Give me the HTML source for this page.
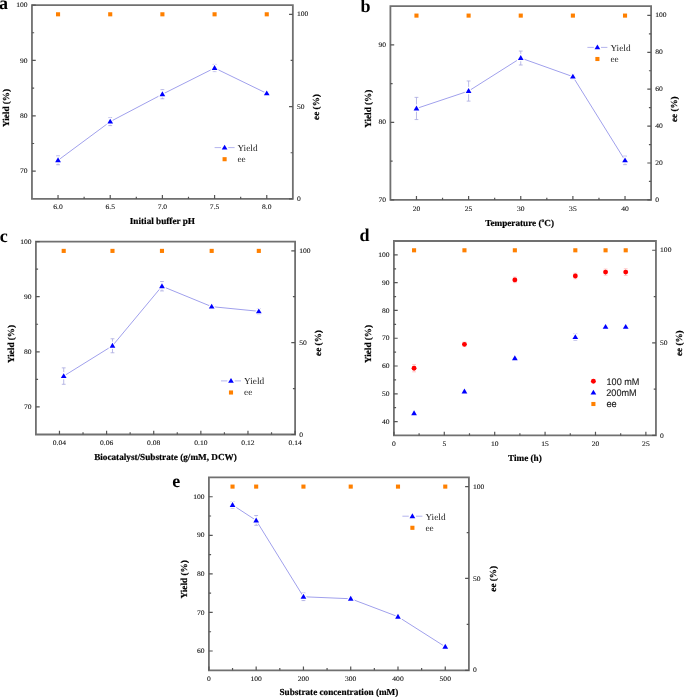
<!DOCTYPE html>
<html><head><meta charset="utf-8"><style>
html,body{margin:0;padding:0;background:#fff;}
body{width:685px;height:698px;overflow:hidden;}
svg{display:block;filter:blur(0.3px);font-family:"Liberation Serif",serif;will-change:transform;text-rendering:geometricPrecision;}
</style></head><body>
<svg width="685" height="698" viewBox="0 0 685 698">
<path d="M31.95 5.05H292.85V198.90H31.95Z" fill="none" stroke="#707070" stroke-width="1.8" stroke-linejoin="miter"/>
<path d="M58.04 198.90v-3.8M110.22 198.90v-3.8M162.40 198.90v-3.8M214.58 198.90v-3.8M266.76 198.90v-3.8M84.13 198.90v-2.2M136.31 198.90v-2.2M188.49 198.90v-2.2M240.67 198.90v-2.2M31.95 171.21h3.8M31.95 115.82h3.8M31.95 60.44h3.8M31.95 5.05h3.8M31.95 143.51h2.2M31.95 88.13h2.2M31.95 32.74h2.2M292.85 198.90h-3.8M292.85 106.59h-3.8M292.85 14.28h-3.8M292.85 152.75h-2.2M292.85 60.44h-2.2" stroke="#555" stroke-width="1.2" fill="none"/>
<g font-size="6.9" fill="#111" stroke="#111" stroke-width="0.1"><text transform="translate(58.04 209.07) scale(1.1 1)" text-anchor="middle">6.0</text><text transform="translate(110.22 209.07) scale(1.1 1)" text-anchor="middle">6.5</text><text transform="translate(162.40 209.07) scale(1.1 1)" text-anchor="middle">7.0</text><text transform="translate(214.58 209.07) scale(1.1 1)" text-anchor="middle">7.5</text><text transform="translate(266.76 209.07) scale(1.1 1)" text-anchor="middle">8.0</text><text transform="translate(27.65 173.28) scale(1.1 1)" text-anchor="end">70</text><text transform="translate(27.65 117.89) scale(1.1 1)" text-anchor="end">80</text><text transform="translate(27.65 62.51) scale(1.1 1)" text-anchor="end">90</text><text transform="translate(27.65 7.12) scale(1.1 1)" text-anchor="end">100</text><text transform="translate(296.95 200.97) scale(1.1 1)">0</text><text transform="translate(296.95 108.66) scale(1.1 1)">50</text><text transform="translate(296.95 16.35) scale(1.1 1)">100</text></g>
<polyline points="58.04,160.30 110.22,121.64 162.40,94.22 214.58,68.02 266.76,93.39" fill="none" stroke="#a0a0ec" stroke-width="1"/>
<path d="M58.04 155.87V164.73M56.14 155.87h3.8M56.14 164.73h3.8" stroke="#a8a8e0" stroke-width="0.8" fill="none"/>
<path d="M110.22 117.65V125.62M108.32 117.65h3.8M108.32 125.62h3.8" stroke="#a8a8e0" stroke-width="0.8" fill="none"/>
<path d="M162.40 89.68V98.76M160.50 89.68h3.8M160.50 98.76h3.8" stroke="#a8a8e0" stroke-width="0.8" fill="none"/>
<path d="M214.58 64.42V71.62M212.68 64.42h3.8M212.68 71.62h3.8" stroke="#a8a8e0" stroke-width="0.8" fill="none"/>
<path d="M266.76 91.73V95.05M264.86 91.73h3.8M264.86 95.05h3.8" stroke="#a8a8e0" stroke-width="0.8" fill="none"/>
<path d="M58.04 157.36L60.89 162.26H55.19Z" fill="#0000ff" stroke="#fff" stroke-width="2.4" paint-order="stroke" stroke-linejoin="round"/>
<path d="M110.22 118.70L113.07 123.60H107.37Z" fill="#0000ff" stroke="#fff" stroke-width="2.4" paint-order="stroke" stroke-linejoin="round"/>
<path d="M162.40 91.28L165.25 96.18H159.55Z" fill="#0000ff" stroke="#fff" stroke-width="2.4" paint-order="stroke" stroke-linejoin="round"/>
<path d="M214.58 65.08L217.43 69.98H211.73Z" fill="#0000ff" stroke="#fff" stroke-width="2.4" paint-order="stroke" stroke-linejoin="round"/>
<path d="M266.76 90.45L269.61 95.35H263.91Z" fill="#0000ff" stroke="#fff" stroke-width="2.4" paint-order="stroke" stroke-linejoin="round"/>
<rect x="55.99" y="12.25" width="4.1" height="4.1" fill="#ff8000"/>
<rect x="108.17" y="12.25" width="4.1" height="4.1" fill="#ff8000"/>
<rect x="160.35" y="12.25" width="4.1" height="4.1" fill="#ff8000"/>
<rect x="212.53" y="12.25" width="4.1" height="4.1" fill="#ff8000"/>
<rect x="264.71" y="12.25" width="4.1" height="4.1" fill="#ff8000"/>
<path d="M214.60 147.60h6.4M228.20 147.60h6.4" stroke="#b4b4ee" stroke-width="1"/>
<path d="M224.60 144.66L227.45 149.56H221.75Z" fill="#0000ff" stroke="#fff" stroke-width="2.4" paint-order="stroke" stroke-linejoin="round"/>
<text x="237.40" y="151.17" font-size="9.3" fill="#222">Yield</text>
<rect x="222.55" y="157.15" width="4.1" height="4.1" fill="#ff8000"/>
<text x="237.40" y="161.90" font-size="9.3" fill="#222">ee</text>
<text x="162.40" y="223.60" text-anchor="middle" font-weight="bold" font-size="9.2" stroke="#000" stroke-width="0.2">Initial buffer pH</text>
<text transform="translate(6.30 108.00) rotate(-90)" x="0" y="2.76" text-anchor="middle" font-weight="bold" font-size="9.2" stroke="#000" stroke-width="0.2">Yield (%)</text>
<text transform="translate(316.00 107.00) rotate(-90)" x="0" y="2.76" text-anchor="middle" font-weight="bold" font-size="9.2" stroke="#000" stroke-width="0.2">ee (%)</text>
<text x="-1.00" y="8.60" font-weight="bold" font-size="18">a</text>
<path d="M390.40 6.20H651.10V199.90H390.40Z" fill="none" stroke="#707070" stroke-width="1.8" stroke-linejoin="miter"/>
<path d="M416.47 199.90v-3.8M468.61 199.90v-3.8M520.75 199.90v-3.8M572.89 199.90v-3.8M625.03 199.90v-3.8M442.54 199.90v-2.2M494.68 199.90v-2.2M546.82 199.90v-2.2M598.96 199.90v-2.2M390.40 199.90h3.8M390.40 122.42h3.8M390.40 44.94h3.8M390.40 161.16h2.2M390.40 83.68h2.2M651.10 199.90h-3.8M651.10 163.00h-3.8M651.10 126.11h-3.8M651.10 89.21h-3.8M651.10 52.32h-3.8M651.10 15.42h-3.8M651.10 181.45h-2.2M651.10 144.56h-2.2M651.10 107.66h-2.2M651.10 70.77h-2.2M651.10 33.87h-2.2" stroke="#555" stroke-width="1.2" fill="none"/>
<g font-size="6.9" fill="#111" stroke="#111" stroke-width="0.1"><text transform="translate(416.47 210.87) scale(1.1 1)" text-anchor="middle">20</text><text transform="translate(468.61 210.87) scale(1.1 1)" text-anchor="middle">25</text><text transform="translate(520.75 210.87) scale(1.1 1)" text-anchor="middle">30</text><text transform="translate(572.89 210.87) scale(1.1 1)" text-anchor="middle">35</text><text transform="translate(625.03 210.87) scale(1.1 1)" text-anchor="middle">40</text><text transform="translate(386.10 201.97) scale(1.1 1)" text-anchor="end">70</text><text transform="translate(386.10 124.49) scale(1.1 1)" text-anchor="end">80</text><text transform="translate(386.10 47.01) scale(1.1 1)" text-anchor="end">90</text><text transform="translate(655.20 201.97) scale(1.1 1)">0</text><text transform="translate(655.20 165.07) scale(1.1 1)">20</text><text transform="translate(655.20 128.18) scale(1.1 1)">40</text><text transform="translate(655.20 91.28) scale(1.1 1)">60</text><text transform="translate(655.20 54.39) scale(1.1 1)">80</text><text transform="translate(655.20 17.49) scale(1.1 1)">100</text></g>
<polyline points="416.47,108.47 468.61,91.04 520.75,58.03 572.89,76.63 625.03,160.39" fill="none" stroke="#a0a0ec" stroke-width="1"/>
<path d="M416.47 97.39V119.55M414.57 97.39h3.8M414.57 119.55h3.8" stroke="#a8a8e0" stroke-width="0.8" fill="none"/>
<path d="M468.61 80.97V101.11M466.71 80.97h3.8M466.71 101.11h3.8" stroke="#a8a8e0" stroke-width="0.8" fill="none"/>
<path d="M520.75 51.06V65.01M518.85 51.06h3.8M518.85 65.01h3.8" stroke="#a8a8e0" stroke-width="0.8" fill="none"/>
<path d="M572.89 74.30V78.95M570.99 74.30h3.8M570.99 78.95h3.8" stroke="#a8a8e0" stroke-width="0.8" fill="none"/>
<path d="M625.03 156.12V164.65M623.13 156.12h3.8M623.13 164.65h3.8" stroke="#a8a8e0" stroke-width="0.8" fill="none"/>
<path d="M416.47 105.53L419.32 110.43H413.62Z" fill="#0000ff" stroke="#fff" stroke-width="2.4" paint-order="stroke" stroke-linejoin="round"/>
<path d="M468.61 88.10L471.46 93.00H465.76Z" fill="#0000ff" stroke="#fff" stroke-width="2.4" paint-order="stroke" stroke-linejoin="round"/>
<path d="M520.75 55.09L523.60 59.99H517.90Z" fill="#0000ff" stroke="#fff" stroke-width="2.4" paint-order="stroke" stroke-linejoin="round"/>
<path d="M572.89 73.69L575.74 78.59H570.04Z" fill="#0000ff" stroke="#fff" stroke-width="2.4" paint-order="stroke" stroke-linejoin="round"/>
<path d="M625.03 157.45L627.88 162.35H622.18Z" fill="#0000ff" stroke="#fff" stroke-width="2.4" paint-order="stroke" stroke-linejoin="round"/>
<rect x="414.42" y="13.55" width="4.1" height="4.1" fill="#ff8000"/>
<rect x="466.56" y="13.55" width="4.1" height="4.1" fill="#ff8000"/>
<rect x="518.70" y="13.55" width="4.1" height="4.1" fill="#ff8000"/>
<rect x="570.84" y="13.55" width="4.1" height="4.1" fill="#ff8000"/>
<rect x="622.98" y="13.55" width="4.1" height="4.1" fill="#ff8000"/>
<path d="M587.40 47.40h6.4M601.00 47.40h6.4" stroke="#b4b4ee" stroke-width="1"/>
<path d="M597.40 44.46L600.25 49.36H594.55Z" fill="#0000ff" stroke="#fff" stroke-width="2.4" paint-order="stroke" stroke-linejoin="round"/>
<text x="610.40" y="50.97" font-size="9.3" fill="#222">Yield</text>
<rect x="595.35" y="56.95" width="4.1" height="4.1" fill="#ff8000"/>
<text x="610.40" y="61.70" font-size="9.3" fill="#222">ee</text>
<text x="519.55" y="226.40" text-anchor="middle" font-weight="bold" font-size="9.2" stroke="#000" stroke-width="0.2">Temperature (<tspan dy="-4.2" font-size="5.5">o</tspan><tspan dy="4.2">C)</tspan></text>
<text transform="translate(368.50 108.75) rotate(-90)" x="0" y="2.76" text-anchor="middle" font-weight="bold" font-size="9.2" stroke="#000" stroke-width="0.2">Yield (%)</text>
<text transform="translate(674.50 109.20) rotate(-90)" x="0" y="2.76" text-anchor="middle" font-weight="bold" font-size="9.2" stroke="#000" stroke-width="0.2">ee (%)</text>
<text x="360.50" y="12.00" font-weight="bold" font-size="18">b</text>
<path d="M35.90 241.60H295.10V434.50H35.90Z" fill="none" stroke="#707070" stroke-width="1.8" stroke-linejoin="miter"/>
<path d="M59.46 434.50v-3.8M106.59 434.50v-3.8M153.72 434.50v-3.8M200.85 434.50v-3.8M247.97 434.50v-3.8M295.10 434.50v-3.8M83.03 434.50v-2.2M130.15 434.50v-2.2M177.28 434.50v-2.2M224.41 434.50v-2.2M271.54 434.50v-2.2M35.90 406.94h3.8M35.90 351.83h3.8M35.90 296.71h3.8M35.90 241.60h3.8M35.90 379.39h2.2M35.90 324.27h2.2M35.90 269.16h2.2M295.10 434.50h-3.8M295.10 342.64h-3.8M295.10 250.79h-3.8M295.10 388.57h-2.2M295.10 296.71h-2.2" stroke="#555" stroke-width="1.2" fill="none"/>
<g font-size="6.9" fill="#111" stroke="#111" stroke-width="0.1"><text transform="translate(59.46 445.07) scale(1.1 1)" text-anchor="middle">0.04</text><text transform="translate(106.59 445.07) scale(1.1 1)" text-anchor="middle">0.06</text><text transform="translate(153.72 445.07) scale(1.1 1)" text-anchor="middle">0.08</text><text transform="translate(200.85 445.07) scale(1.1 1)" text-anchor="middle">0.10</text><text transform="translate(247.97 445.07) scale(1.1 1)" text-anchor="middle">0.12</text><text transform="translate(295.10 445.07) scale(1.1 1)" text-anchor="middle">0.14</text><text transform="translate(31.60 409.01) scale(1.1 1)" text-anchor="end">70</text><text transform="translate(31.60 353.90) scale(1.1 1)" text-anchor="end">80</text><text transform="translate(31.60 298.78) scale(1.1 1)" text-anchor="end">90</text><text transform="translate(31.60 243.67) scale(1.1 1)" text-anchor="end">100</text><text transform="translate(299.20 436.57) scale(1.1 1)">0</text><text transform="translate(299.20 344.71) scale(1.1 1)">50</text><text transform="translate(299.20 252.86) scale(1.1 1)">100</text></g>
<polyline points="63.71,376.08 112.48,345.77 161.97,286.24 211.68,306.63 258.81,311.32" fill="none" stroke="#a0a0ec" stroke-width="1"/>
<path d="M63.71 367.87V384.29M61.81 367.87h3.8M61.81 384.29h3.8" stroke="#a8a8e0" stroke-width="0.8" fill="none"/>
<path d="M112.48 338.77V352.77M110.58 338.77h3.8M110.58 352.77h3.8" stroke="#a8a8e0" stroke-width="0.8" fill="none"/>
<path d="M161.97 281.56V290.93M160.07 281.56h3.8M160.07 290.93h3.8" stroke="#a8a8e0" stroke-width="0.8" fill="none"/>
<path d="M211.68 304.98V308.29M209.78 304.98h3.8M209.78 308.29h3.8" stroke="#a8a8e0" stroke-width="0.8" fill="none"/>
<path d="M258.81 308.56V314.08M256.91 308.56h3.8M256.91 314.08h3.8" stroke="#a8a8e0" stroke-width="0.8" fill="none"/>
<path d="M63.71 373.14L66.56 378.04H60.86Z" fill="#0000ff" stroke="#fff" stroke-width="2.4" paint-order="stroke" stroke-linejoin="round"/>
<path d="M112.48 342.83L115.33 347.73H109.63Z" fill="#0000ff" stroke="#fff" stroke-width="2.4" paint-order="stroke" stroke-linejoin="round"/>
<path d="M161.97 283.30L164.82 288.20H159.12Z" fill="#0000ff" stroke="#fff" stroke-width="2.4" paint-order="stroke" stroke-linejoin="round"/>
<path d="M211.68 303.69L214.53 308.59H208.83Z" fill="#0000ff" stroke="#fff" stroke-width="2.4" paint-order="stroke" stroke-linejoin="round"/>
<path d="M258.81 308.38L261.66 313.28H255.96Z" fill="#0000ff" stroke="#fff" stroke-width="2.4" paint-order="stroke" stroke-linejoin="round"/>
<rect x="61.66" y="248.85" width="4.1" height="4.1" fill="#ff8000"/>
<rect x="110.43" y="248.85" width="4.1" height="4.1" fill="#ff8000"/>
<rect x="159.92" y="248.85" width="4.1" height="4.1" fill="#ff8000"/>
<rect x="209.63" y="248.85" width="4.1" height="4.1" fill="#ff8000"/>
<rect x="256.76" y="248.85" width="4.1" height="4.1" fill="#ff8000"/>
<path d="M221.00 380.90h6.4M234.60 380.90h6.4" stroke="#b4b4ee" stroke-width="1"/>
<path d="M231.00 377.96L233.85 382.86H228.15Z" fill="#0000ff" stroke="#fff" stroke-width="2.4" paint-order="stroke" stroke-linejoin="round"/>
<text x="244.00" y="384.47" font-size="9.3" fill="#222">Yield</text>
<rect x="228.95" y="390.45" width="4.1" height="4.1" fill="#ff8000"/>
<text x="244.00" y="395.20" font-size="9.3" fill="#222">ee</text>
<text x="165.50" y="459.60" text-anchor="middle" font-weight="bold" font-size="9.2" stroke="#000" stroke-width="0.2">Biocatalyst/Substrate (g/mM, DCW)</text>
<text transform="translate(11.40 344.00) rotate(-90)" x="0" y="2.76" text-anchor="middle" font-weight="bold" font-size="9.2" stroke="#000" stroke-width="0.2">Yield (%)</text>
<text transform="translate(318.60 343.00) rotate(-90)" x="0" y="2.76" text-anchor="middle" font-weight="bold" font-size="9.2" stroke="#000" stroke-width="0.2">ee (%)</text>
<text x="-0.20" y="242.30" font-weight="bold" font-size="18">c</text>
<path d="M393.90 241.00H655.95V435.45H393.90Z" fill="none" stroke="#707070" stroke-width="1.8" stroke-linejoin="miter"/>
<path d="M393.90 435.45v-3.8M444.29 435.45v-3.8M494.69 435.45v-3.8M545.08 435.45v-3.8M595.48 435.45v-3.8M645.87 435.45v-3.8M419.10 435.45v-2.2M469.49 435.45v-2.2M519.89 435.45v-2.2M570.28 435.45v-2.2M620.67 435.45v-2.2M393.90 421.56h3.8M393.90 393.78h3.8M393.90 366.00h3.8M393.90 338.23h3.8M393.90 310.45h3.8M393.90 282.67h3.8M393.90 254.89h3.8M393.90 407.67h2.2M393.90 379.89h2.2M393.90 352.11h2.2M393.90 324.34h2.2M393.90 296.56h2.2M393.90 268.78h2.2M655.95 435.45h-3.8M655.95 342.85h-3.8M655.95 250.26h-3.8M655.95 389.15h-2.2M655.95 296.56h-2.2" stroke="#555" stroke-width="1.2" fill="none"/>
<g font-size="6.9" fill="#111" stroke="#111" stroke-width="0.1"><text transform="translate(393.90 445.92) scale(1.1 1)" text-anchor="middle">0</text><text transform="translate(444.29 445.92) scale(1.1 1)" text-anchor="middle">5</text><text transform="translate(494.69 445.92) scale(1.1 1)" text-anchor="middle">10</text><text transform="translate(545.08 445.92) scale(1.1 1)" text-anchor="middle">15</text><text transform="translate(595.48 445.92) scale(1.1 1)" text-anchor="middle">20</text><text transform="translate(645.87 445.92) scale(1.1 1)" text-anchor="middle">25</text><text transform="translate(389.60 423.63) scale(1.1 1)" text-anchor="end">40</text><text transform="translate(389.60 395.85) scale(1.1 1)" text-anchor="end">50</text><text transform="translate(389.60 368.07) scale(1.1 1)" text-anchor="end">60</text><text transform="translate(389.60 340.30) scale(1.1 1)" text-anchor="end">70</text><text transform="translate(389.60 312.52) scale(1.1 1)" text-anchor="end">80</text><text transform="translate(389.60 284.74) scale(1.1 1)" text-anchor="end">90</text><text transform="translate(389.60 256.96) scale(1.1 1)" text-anchor="end">100</text><text transform="translate(660.05 437.52) scale(1.1 1)">0</text><text transform="translate(660.05 344.92) scale(1.1 1)">50</text><text transform="translate(660.05 252.33) scale(1.1 1)">100</text></g>
<path d="M414.06 364.61V371.84M412.16 364.61h3.8M412.16 371.84h3.8" stroke="#ffbcbc" stroke-width="0.8" fill="none"/>
<circle cx="414.06" cy="368.23" r="2.45" fill="#ff0000"/>
<path d="M464.45 342.11V346.56M462.55 342.11h3.8M462.55 346.56h3.8" stroke="#ffbcbc" stroke-width="0.8" fill="none"/>
<circle cx="464.45" cy="344.34" r="2.45" fill="#ff0000"/>
<path d="M514.85 277.11V282.67M512.95 277.11h3.8M512.95 282.67h3.8" stroke="#ffbcbc" stroke-width="0.8" fill="none"/>
<circle cx="514.85" cy="279.89" r="2.45" fill="#ff0000"/>
<path d="M575.32 273.22V278.78M573.42 273.22h3.8M573.42 278.78h3.8" stroke="#ffbcbc" stroke-width="0.8" fill="none"/>
<circle cx="575.32" cy="276.00" r="2.45" fill="#ff0000"/>
<path d="M605.56 269.06V275.17M603.66 269.06h3.8M603.66 275.17h3.8" stroke="#ffbcbc" stroke-width="0.8" fill="none"/>
<circle cx="605.56" cy="272.11" r="2.45" fill="#ff0000"/>
<path d="M625.71 268.78V275.45M623.81 268.78h3.8M623.81 275.45h3.8" stroke="#ffbcbc" stroke-width="0.8" fill="none"/>
<circle cx="625.71" cy="272.11" r="2.45" fill="#ff0000"/>
<path d="M414.06 411.56V414.89M412.16 411.56h3.8M412.16 414.89h3.8" stroke="#a8a8e0" stroke-width="0.8" fill="none"/>
<path d="M414.06 410.29L416.91 415.19H411.21Z" fill="#0000ff" stroke="#fff" stroke-width="2.4" paint-order="stroke" stroke-linejoin="round"/>
<path d="M464.45 390.17V392.95M462.55 390.17h3.8M462.55 392.95h3.8" stroke="#a8a8e0" stroke-width="0.8" fill="none"/>
<path d="M464.45 388.62L467.30 393.52H461.60Z" fill="#0000ff" stroke="#fff" stroke-width="2.4" paint-order="stroke" stroke-linejoin="round"/>
<path d="M514.85 357.39V359.06M512.95 357.39h3.8M512.95 359.06h3.8" stroke="#a8a8e0" stroke-width="0.8" fill="none"/>
<path d="M514.85 355.29L517.70 360.19H512.00Z" fill="#0000ff" stroke="#fff" stroke-width="2.4" paint-order="stroke" stroke-linejoin="round"/>
<path d="M575.32 333.78V340.45M573.42 333.78h3.8M573.42 340.45h3.8" stroke="#a8a8e0" stroke-width="0.8" fill="none"/>
<path d="M575.32 334.17L578.17 339.07H572.47Z" fill="#0000ff" stroke="#fff" stroke-width="2.4" paint-order="stroke" stroke-linejoin="round"/>
<path d="M605.56 326.00V327.67M603.66 326.00h3.8M603.66 327.67h3.8" stroke="#a8a8e0" stroke-width="0.8" fill="none"/>
<path d="M605.56 323.90L608.41 328.80H602.71Z" fill="#0000ff" stroke="#fff" stroke-width="2.4" paint-order="stroke" stroke-linejoin="round"/>
<path d="M625.71 326.00V327.67M623.81 326.00h3.8M623.81 327.67h3.8" stroke="#a8a8e0" stroke-width="0.8" fill="none"/>
<path d="M625.71 323.90L628.56 328.80H622.86Z" fill="#0000ff" stroke="#fff" stroke-width="2.4" paint-order="stroke" stroke-linejoin="round"/>
<rect x="412.01" y="248.25" width="4.1" height="4.1" fill="#ff8000"/>
<rect x="462.40" y="248.25" width="4.1" height="4.1" fill="#ff8000"/>
<rect x="512.80" y="248.25" width="4.1" height="4.1" fill="#ff8000"/>
<rect x="573.27" y="248.25" width="4.1" height="4.1" fill="#ff8000"/>
<rect x="603.51" y="248.25" width="4.1" height="4.1" fill="#ff8000"/>
<rect x="623.66" y="248.25" width="4.1" height="4.1" fill="#ff8000"/>
<circle cx="593.40" cy="381.20" r="2.45" fill="#ff0000"/>
<path d="M593.40 389.66L596.25 394.56H590.55Z" fill="#0000ff" stroke="#fff" stroke-width="2.4" paint-order="stroke" stroke-linejoin="round"/>
<rect x="591.35" y="401.95" width="4.1" height="4.1" fill="#ff8000"/>
<g font-family="Liberation Sans" font-size="9.6" fill="#222" stroke="#222" stroke-width="0.12"><text transform="translate(606.5 384.6) scale(0.95 1)">100 mM</text><text transform="translate(606.3 395.8) scale(0.95 1)">200mM</text><text transform="translate(606.5 406.9) scale(0.95 1)">ee</text></g>
<text x="524.92" y="460.70" text-anchor="middle" font-weight="bold" font-size="9.2" stroke="#000" stroke-width="0.2">Time (h)</text>
<text transform="translate(368.40 344.00) rotate(-90)" x="0" y="2.76" text-anchor="middle" font-weight="bold" font-size="9.2" stroke="#000" stroke-width="0.2">Yield (%)</text>
<text transform="translate(679.50 343.20) rotate(-90)" x="0" y="2.76" text-anchor="middle" font-weight="bold" font-size="9.2" stroke="#000" stroke-width="0.2">ee (%)</text>
<text x="359.50" y="241.40" font-weight="bold" font-size="18">d</text>
<path d="M208.90 477.45H468.90V670.30H208.90Z" fill="none" stroke="#707070" stroke-width="1.8" stroke-linejoin="miter"/>
<path d="M208.90 670.30v-3.8M256.17 670.30v-3.8M303.45 670.30v-3.8M350.72 670.30v-3.8M397.99 670.30v-3.8M445.26 670.30v-3.8M232.54 670.30v-2.2M279.81 670.30v-2.2M327.08 670.30v-2.2M374.35 670.30v-2.2M421.63 670.30v-2.2M208.90 651.01h3.8M208.90 612.44h3.8M208.90 573.88h3.8M208.90 535.30h3.8M208.90 496.74h3.8M208.90 631.73h2.2M208.90 593.16h2.2M208.90 554.59h2.2M208.90 516.02h2.2M468.90 670.30h-3.8M468.90 578.47h-3.8M468.90 486.63h-3.8M468.90 624.38h-2.2M468.90 532.55h-2.2" stroke="#555" stroke-width="1.2" fill="none"/>
<g font-size="6.9" fill="#111" stroke="#111" stroke-width="0.1"><text transform="translate(208.90 680.67) scale(1.1 1)" text-anchor="middle">0</text><text transform="translate(256.17 680.67) scale(1.1 1)" text-anchor="middle">100</text><text transform="translate(303.45 680.67) scale(1.1 1)" text-anchor="middle">200</text><text transform="translate(350.72 680.67) scale(1.1 1)" text-anchor="middle">300</text><text transform="translate(397.99 680.67) scale(1.1 1)" text-anchor="middle">400</text><text transform="translate(445.26 680.67) scale(1.1 1)" text-anchor="middle">500</text><text transform="translate(204.60 653.09) scale(1.1 1)" text-anchor="end">60</text><text transform="translate(204.60 614.51) scale(1.1 1)" text-anchor="end">70</text><text transform="translate(204.60 575.95) scale(1.1 1)" text-anchor="end">80</text><text transform="translate(204.60 537.38) scale(1.1 1)" text-anchor="end">90</text><text transform="translate(204.60 498.81) scale(1.1 1)" text-anchor="end">100</text><text transform="translate(473.00 672.37) scale(1.1 1)">0</text><text transform="translate(473.00 580.54) scale(1.1 1)">50</text><text transform="translate(473.00 488.70) scale(1.1 1)">100</text></g>
<polyline points="232.54,504.99 256.17,520.42 303.45,596.75 350.72,598.75 397.99,616.69 445.26,646.77" fill="none" stroke="#a0a0ec" stroke-width="1"/>
<path d="M232.54 501.71V508.27M230.64 501.71h3.8M230.64 508.27h3.8" stroke="#a8a8e0" stroke-width="0.8" fill="none"/>
<path d="M256.17 515.52V525.32M254.27 515.52h3.8M254.27 525.32h3.8" stroke="#a8a8e0" stroke-width="0.8" fill="none"/>
<path d="M303.45 592.93V600.57M301.55 592.93h3.8M301.55 600.57h3.8" stroke="#a8a8e0" stroke-width="0.8" fill="none"/>
<path d="M350.72 596.82V600.68M348.82 596.82h3.8M348.82 600.68h3.8" stroke="#a8a8e0" stroke-width="0.8" fill="none"/>
<path d="M397.99 615.53V617.84M396.09 615.53h3.8M396.09 617.84h3.8" stroke="#a8a8e0" stroke-width="0.8" fill="none"/>
<path d="M445.26 645.62V647.93M443.36 645.62h3.8M443.36 647.93h3.8" stroke="#a8a8e0" stroke-width="0.8" fill="none"/>
<path d="M232.54 502.05L235.39 506.95H229.69Z" fill="#0000ff" stroke="#fff" stroke-width="2.4" paint-order="stroke" stroke-linejoin="round"/>
<path d="M256.17 517.48L259.02 522.38H253.32Z" fill="#0000ff" stroke="#fff" stroke-width="2.4" paint-order="stroke" stroke-linejoin="round"/>
<path d="M303.45 593.81L306.30 598.71H300.60Z" fill="#0000ff" stroke="#fff" stroke-width="2.4" paint-order="stroke" stroke-linejoin="round"/>
<path d="M350.72 595.81L353.57 600.71H347.87Z" fill="#0000ff" stroke="#fff" stroke-width="2.4" paint-order="stroke" stroke-linejoin="round"/>
<path d="M397.99 613.75L400.84 618.65H395.14Z" fill="#0000ff" stroke="#fff" stroke-width="2.4" paint-order="stroke" stroke-linejoin="round"/>
<path d="M445.26 643.83L448.11 648.73H442.41Z" fill="#0000ff" stroke="#fff" stroke-width="2.4" paint-order="stroke" stroke-linejoin="round"/>
<rect x="230.49" y="484.55" width="4.1" height="4.1" fill="#ff8000"/>
<rect x="254.12" y="484.55" width="4.1" height="4.1" fill="#ff8000"/>
<rect x="301.40" y="484.55" width="4.1" height="4.1" fill="#ff8000"/>
<rect x="348.67" y="484.55" width="4.1" height="4.1" fill="#ff8000"/>
<rect x="395.94" y="484.55" width="4.1" height="4.1" fill="#ff8000"/>
<rect x="443.21" y="484.55" width="4.1" height="4.1" fill="#ff8000"/>
<path d="M402.40 516.20h6.4M416.00 516.20h6.4" stroke="#b4b4ee" stroke-width="1"/>
<path d="M412.40 513.26L415.25 518.16H409.55Z" fill="#0000ff" stroke="#fff" stroke-width="2.4" paint-order="stroke" stroke-linejoin="round"/>
<text x="425.40" y="519.77" font-size="9.3" fill="#222">Yield</text>
<rect x="410.35" y="525.75" width="4.1" height="4.1" fill="#ff8000"/>
<text x="425.40" y="530.50" font-size="9.3" fill="#222">ee</text>
<text x="338.90" y="695.40" text-anchor="middle" font-weight="bold" font-size="9.2" stroke="#000" stroke-width="0.2">Substrate concentration (mM)</text>
<text transform="translate(184.00 579.40) rotate(-90)" x="0" y="2.76" text-anchor="middle" font-weight="bold" font-size="9.2" stroke="#000" stroke-width="0.2">Yield (%)</text>
<text transform="translate(493.00 578.80) rotate(-90)" x="0" y="2.76" text-anchor="middle" font-weight="bold" font-size="9.2" stroke="#000" stroke-width="0.2">ee (%)</text>
<text x="172.20" y="487.30" font-weight="bold" font-size="18">e</text>
</svg>
</body></html>
